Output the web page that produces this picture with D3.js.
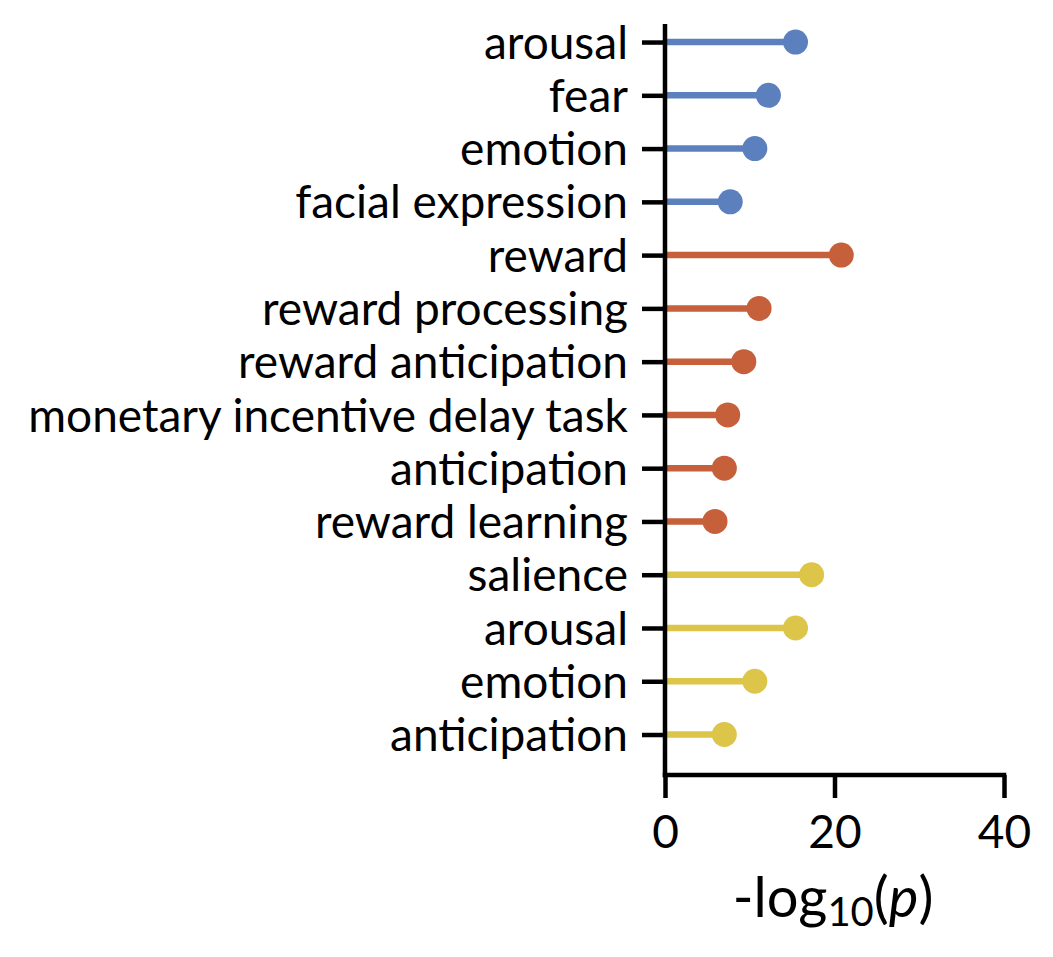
<!DOCTYPE html>
<html>
<head>
<meta charset="utf-8">
<script src="https://cdn.jsdelivr.net/npm/d3@7"></script>
<style>
  body { margin: 0; background: #fff; }
  svg text { font-family: Lato, sans-serif; fill: #000; }
</style>
</head>
<body>
<svg id="chart"></svg>
<script>
// data
let terms = ['arousal', 'fear', 'emotion', 'facial expression',
             'reward', 'reward processing', 'reward anticipation', 'monetary incentive delay task', 'anticipation', 'reward learning',
             'salience', 'arousal', 'emotion', 'anticipation']
let values = [15.4, 12.2, 10.6, 7.7,
              20.8, 11.1, 9.3, 7.4, 7.0, 5.9,
              17.3, 15.4, 10.6, 7.0]
let groups = ['blue', 'blue', 'blue', 'blue',
              'red', 'red', 'red', 'red', 'red', 'red',
              'yellow', 'yellow', 'yellow', 'yellow']
let xTicks = [0, 20, 40]

let colors = { blue: '#5b80bd', red: '#c5603a', yellow: '#dcc548' }

// canvas
let width = 1053
let height = 957
let plotLeft = 665
let plotRight = 1004
let plotTop = 24
let plotBottom = 775

let svg = d3.select('#chart')
    .attr('width', width)
    .attr('height', height)

let xScale = d3.scaleLinear()
    .domain([0, 40])
    .range([plotLeft, plotRight])

let yScale = d3.scaleLinear()
    .domain([-0.32, 13.76])
    .range([25, plotBottom])

let idx = d3.range(terms.length)

// stems
svg.selectAll('line.stem')
    .data(idx)
    .enter()
    .append('line')
    .attr('class', 'stem')
    .attr('x1', xScale(0))
    .attr('x2', (i) => xScale(values[i]))
    .attr('y1', (i) => yScale(i))
    .attr('y2', (i) => yScale(i))
    .attr('stroke', (i) => colors[groups[i]])
    .attr('stroke-width', 6.5)

// dots
svg.selectAll('circle.dot')
    .data(idx)
    .enter()
    .append('circle')
    .attr('class', 'dot')
    .attr('cx', (i) => xScale(values[i]))
    .attr('cy', (i) => yScale(i))
    .attr('r', 12.5)
    .attr('fill', (i) => colors[groups[i]])

// y axis
let yAxis = d3.axisLeft(yScale)
    .tickValues(idx)
    .tickFormat((i) => terms[i])
    .tickSize(23)
    .tickPadding(14)

let gy = svg.append('g')
    .attr('transform', 'translate(' + plotLeft + ',0)')
    .call(yAxis)
gy.select('.domain').remove()
gy.append('line')
    .attr('x1', 0).attr('x2', 0)
    .attr('y1', plotTop).attr('y2', plotBottom + 2.25)
    .attr('stroke', '#000').attr('stroke-width', 4.5)
gy.selectAll('.tick line').attr('stroke', '#000').attr('stroke-width', 4.5)
gy.selectAll('.tick text').style('font-size', '46px').attr('dy', '0.35em')

// x axis
let xAxis = d3.axisBottom(xScale)
    .tickValues(xTicks)
    .tickSize(23)
    .tickPadding(17)

let gx = svg.append('g')
    .attr('transform', 'translate(0,' + plotBottom + ')')
    .call(xAxis)
gx.select('.domain').remove()
gx.append('line')
    .attr('x1', plotLeft - 2.25).attr('x2', plotRight + 2.25)
    .attr('y1', 0).attr('y2', 0)
    .attr('stroke', '#000').attr('stroke-width', 4.5)
gx.selectAll('.tick line').attr('stroke', '#000').attr('stroke-width', 4.5)
gx.selectAll('.tick text').style('font-size', '46px')

// x label
let xl = svg.append('text')
    .attr('x', 833)
    .attr('y', 917)
    .attr('text-anchor', 'middle')
    .style('font-size', '56px')
xl.append('tspan').text('-log')
xl.append('tspan').text('10').style('font-size', '40px').attr('dy', 9)
xl.append('tspan').text('(').attr('dy', -9)
xl.append('tspan').text('p').style('font-style', 'italic')
xl.append('tspan').text(')')
</script>
</body>
</html>
